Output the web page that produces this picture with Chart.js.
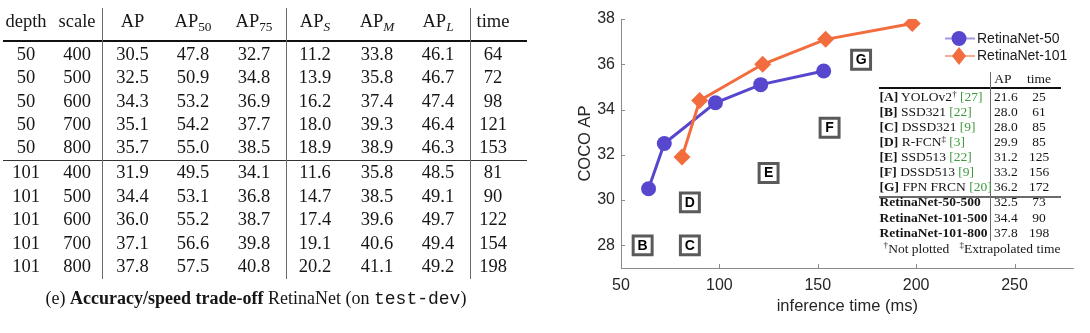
<!DOCTYPE html>
<html><head><meta charset="utf-8">
<script src="https://cdn.jsdelivr.net/npm/chart.js@4.4.0/dist/chart.umd.min.js"></script>
<style>
html,body{margin:0;padding:0;background:#fff;}
#wrap{position:relative;width:1090px;height:333px;overflow:hidden;background:#fff;}
#c{position:absolute;left:0;top:0;}
.t{position:absolute;white-space:nowrap;line-height:1;transform:translate(-50%,-50%);color:#161616;}
.l{transform:translate(0,-50%);}
.serif{font-family:"Liberation Serif","Times New Roman",serif;}
.mono{font-family:"Liberation Mono","Courier New",monospace;font-weight:normal;}
.sub{font-size:0.72em;position:relative;top:0.28em;}
.sup{font-size:0.68em;position:relative;top:-0.45em;}
.it{font-style:italic;}
.g{color:#3f9a3f;}
.hl{position:absolute;}
</style></head>
<body><div id="wrap"><canvas id="c" width="1090" height="333"></canvas></div>
<script>
// ---------- main table (left) ----------
const depthVals = [50, 50, 50, 50, 50, 101, 101, 101, 101, 101];
const scaleVals = [400, 500, 600, 700, 800, 400, 500, 600, 700, 800];
const apVals    = [30.5, 32.5, 34.3, 35.1, 35.7, 31.9, 34.4, 36.0, 37.1, 37.8];
const ap50Vals  = [47.8, 50.9, 53.2, 54.2, 55.0, 49.5, 53.1, 55.2, 56.6, 57.5];
const ap75Vals  = [32.7, 34.8, 36.9, 37.7, 38.5, 34.1, 36.8, 38.7, 39.8, 40.8];
const apSVals   = [11.2, 13.9, 16.2, 18.0, 18.9, 11.6, 14.7, 17.4, 19.1, 20.2];
const apMVals   = [33.8, 35.8, 37.4, 39.3, 38.9, 35.8, 38.5, 39.6, 40.6, 41.1];
const apLVals   = [46.1, 46.7, 47.4, 46.4, 46.3, 48.5, 49.1, 49.7, 49.4, 49.2];
const timeVals  = [64, 72, 98, 121, 153, 81, 90, 122, 154, 198];

// ---------- inset comparison table ----------
const methodKeys  = ['A', 'B', 'C', 'D', 'E', 'F', 'G'];
const methodNames = ['YOLOv2', 'SSD321', 'DSSD321', 'R-FCN', 'SSD513', 'DSSD513', 'FPN FRCN'];
const methodMarks = ['†', '', '', '‡', '', '', ''];
const methodRefs  = [27, 22, 9, 3, 22, 9, 20];
const methodAP    = [21.6, 28.0, 28.0, 29.9, 31.2, 33.2, 36.2];
const methodTime  = [25, 61, 85, 85, 125, 156, 172];
const methodPlotted = [false, true, true, true, true, true, true];
const retinaNames = ['RetinaNet-50-500', 'RetinaNet-101-500', 'RetinaNet-101-800'];
const retinaAP    = [32.5, 34.4, 37.8];
const retinaTime  = [73, 90, 198];

// ---------- chart axes ----------
const xTicks = [50, 100, 150, 200, 250];
const yTicks = [28, 30, 32, 34, 36, 38];
const seriesNames = ['RetinaNet-50', 'RetinaNet-101'];

const wrap = document.getElementById('wrap');
function put(html, x, y, size, cls, extra) {
  const d = document.createElement('div');
  d.className = 't ' + (cls || 'serif');
  d.style.left = x + 'px'; d.style.top = y + 'px'; d.style.fontSize = size + 'px';
  if (extra) Object.assign(d.style, extra);
  d.innerHTML = html; wrap.appendChild(d); return d;
}
function hline(x, y, w, h, col) {
  const d = document.createElement('div'); d.className = 'hl';
  Object.assign(d.style, {left: x + 'px', top: y + 'px', width: w + 'px', height: h + 'px', background: col});
  wrap.appendChild(d);
}

// main table layout
const F = 18.5;
const colX = [26, 77, 132.5, 193, 254, 315, 377, 438, 493];
const headers = ['depth', 'scale', 'AP', 'AP<span class="sub">50</span>', 'AP<span class="sub">75</span>',
  'AP<span class="sub it">S</span>', 'AP<span class="sub it">M</span>', 'AP<span class="sub it">L</span>', 'time'];
headers.forEach((h, i) => put(h, colX[i], 21, F));
const rowY = [53.5, 77, 100.5, 124, 147, 172, 195.5, 219, 242.5, 266];
const cols = [depthVals, scaleVals, apVals, ap50Vals, ap75Vals, apSVals, apMVals, apLVals, timeVals];
cols.forEach((arr, ci) => arr.forEach((v, ri) => {
  const s = (ci >= 2 && ci <= 7) ? v.toFixed(1) : String(v);
  put(s, colX[ci], rowY[ri], F);
}));
hline(3, 40, 524, 2, '#111');
hline(3, 159.5, 524, 1, '#333');
[102, 286, 470].forEach(x => hline(x, 8, 1, 271, '#6a6a6a'));
put('(e) <b>Accuracy/speed trade-off</b> RetinaNet (on <span class="mono">test-dev</span>)', 256, 298, 18);

// inset table
const IF = 13.5;
put('AP', 1003, 79, IF); put('time', 1039, 79, IF);
hline(879, 87, 182, 2, '#111');
hline(990, 72, 1, 169, '#6a6a6a');
methodKeys.forEach((k, i) => {
  const y = 96.7 + 15 * i;
  const mark = methodMarks[i] ? '<span class="sup">' + methodMarks[i] + '</span>' : '';
  put('<b>[' + k + ']</b> ' + methodNames[i] + mark + ' <span class="g">[' + methodRefs[i] + ']</span>', 879.5, y, IF, 'serif l');
  put(methodAP[i].toFixed(1), 994, y, IF, 'serif l');
  put(String(methodTime[i]), 1039, y, IF);
});
hline(879, 196, 182, 1.5, '#6a6a6a');
retinaNames.forEach((n, i) => {
  const y = 202 + 15.6 * i;
  put('<b>' + n + '</b>', 879.5, y, IF, 'serif l');
  put(retinaAP[i].toFixed(1), 994, y, IF, 'serif l');
  put(String(retinaTime[i]), 1039, y, IF);
});
put('<span class="sup">†</span>Not plotted &nbsp;&nbsp;<span class="sup">‡</span>Extrapolated time', 972, 248.5, IF);

// ---------- chart ----------
const PURPLE = '#5747cf';
const ORANGE = '#f26c3e';
const SANS = '"Liberation Sans", Arial, Helvetica, sans-serif';
const TXT = '#262626';
const AXIS = '#8a8a8a';

const r50Time = [], r50AP = [], r101Time = [], r101AP = [];
depthVals.forEach((d, i) => {
  if (d === 50) { r50Time.push(timeVals[i]); r50AP.push(apVals[i]); }
  else { r101Time.push(timeVals[i]); r101AP.push(apVals[i]); }
});
const boxLetters = methodKeys.filter((k, i) => methodPlotted[i]);
const boxPts = methodTime.map((t, i) => ({x: t, y: methodAP[i]})).filter((p, i) => methodPlotted[i]);

const extras = {
  id: 'extras',
  afterDatasetsDraw(chart) {
    const c = chart.ctx;
    const meta = chart.getDatasetMeta(2);
    c.save();
    c.font = 'bold 14px ' + SANS; c.fillStyle = '#000';
    c.textAlign = 'center'; c.textBaseline = 'middle';
    meta.data.forEach((pt, i) => c.fillText(boxLetters[i], pt.x, pt.y + 0.5));
    c.restore();
  },
  afterDraw(chart) {
    const c = chart.ctx, xs = chart.scales.x, ys = chart.scales.y;
    c.save();
    c.strokeStyle = AXIS; c.lineWidth = 1;
    xTicks.forEach(v => { const p = Math.round(xs.getPixelForValue(v)) + 0.5;
      c.beginPath(); c.moveTo(p, ys.bottom); c.lineTo(p, ys.bottom - 4); c.stroke(); });
    yTicks.forEach(v => { const p = Math.round(ys.getPixelForValue(v)) + 0.5;
      c.beginPath(); c.moveTo(xs.left, p); c.lineTo(xs.left + 4, p); c.stroke(); });
    const items = [{ds: 0, y: 38.5}, {ds: 1, y: 56}];
    items.forEach(it => {
      const ds = chart.data.datasets[it.ds];
      c.globalAlpha = 0.55; c.strokeStyle = ds.borderColor; c.lineWidth = 2;
      c.beginPath(); c.moveTo(945, it.y); c.lineTo(975, it.y); c.stroke();
      c.globalAlpha = 1; c.fillStyle = ds.borderColor;
      c.beginPath();
      if (ds.pointStyle === 'circle') c.arc(959, it.y, 7.5, 0, Math.PI * 2);
      else { c.moveTo(959, it.y - 9); c.lineTo(966, it.y); c.lineTo(959, it.y + 9); c.lineTo(952, it.y); c.closePath(); }
      c.fill();
      c.font = '14px ' + SANS; c.fillStyle = '#1a1a1a'; c.textAlign = 'left'; c.textBaseline = 'middle';
      c.fillText(ds.label, 977, it.y + 0.5);
    });
    c.restore();
  }
};

new Chart(document.getElementById('c'), {
  type: 'line',
  data: {
    datasets: [
      {label: seriesNames[0], data: r50Time.map((t, i) => ({x: t, y: r50AP[i]})), order: 1,
       borderColor: PURPLE, backgroundColor: PURPLE, borderWidth: 3, tension: 0,
       pointStyle: 'circle', pointRadius: 7.5, pointBorderWidth: 0, pointBackgroundColor: PURPLE},
      {label: seriesNames[1], data: r101Time.map((t, i) => ({x: t, y: r101AP[i]})), order: 0,
       borderColor: ORANGE, backgroundColor: ORANGE, borderWidth: 3, tension: 0,
       pointStyle: 'rectRot', pointRadius: 8.5, pointBorderWidth: 0, pointBackgroundColor: ORANGE},
      {label: 'others', data: boxPts, showLine: false, order: 2,
       pointStyle: 'rect', pointRadius: 13.4, pointBackgroundColor: '#fff',
       pointBorderColor: '#5a5a5a', pointBorderWidth: 3}
    ]
  },
  options: {
    responsive: false, animation: false, events: [],
    layout: {padding: {left: 560, top: 19, right: 10, bottom: 0}},
    plugins: {legend: {display: false}, tooltip: {enabled: false}},
    scales: {
      x: {type: 'linear', min: 50, max: 280,
          grid: {display: false, drawTicks: false},
          border: {display: true, color: AXIS, width: 1},
          afterBuildTicks: s => { s.ticks = xTicks.map(v => ({value: v})); },
          afterFit: s => { s.height = 65; },
          ticks: {font: {family: SANS, size: 16}, color: TXT, padding: 8, maxRotation: 0},
          title: {display: true, text: 'inference time (ms)', color: TXT,
                  font: {family: SANS, size: 16.5}, padding: {top: 0, bottom: 17}}},
      y: {type: 'linear', min: 27, max: 38,
          grid: {display: false, drawTicks: false},
          border: {display: true, color: AXIS, width: 1},
          afterBuildTicks: s => { s.ticks = yTicks.map(v => ({value: v})); },
          afterFit: s => { s.width = 61; },
          ticks: {font: {family: SANS, size: 16}, color: TXT, padding: 6},
          title: {display: true, text: 'COCO AP', color: TXT,
                  font: {family: SANS, size: 16.5}, padding: {top: 16, bottom: 0}}}
    }
  },
  plugins: [extras]
});
</script></body></html>
